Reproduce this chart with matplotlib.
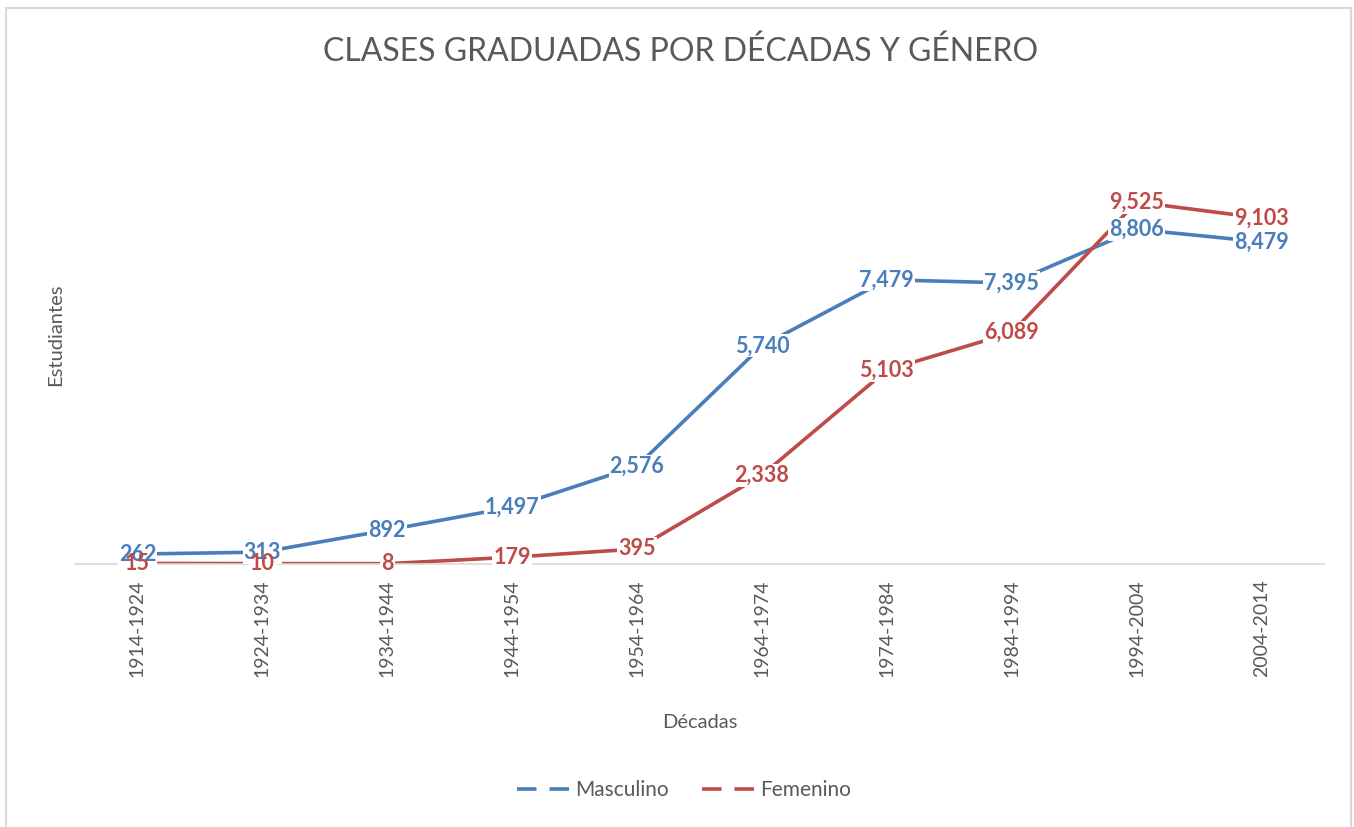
import matplotlib.pyplot as plt
from matplotlib.lines import Line2D
from matplotlib.patches import Rectangle

decadas = ["1914-1924", "1924-1934", "1934-1944", "1944-1954", "1954-1964",
           "1964-1974", "1974-1984", "1984-1994", "1994-2004", "2004-2014"]
masculino = [262, 313, 892, 1497, 2576, 5740, 7479, 7395, 8806, 8479]
femenino = [15, 10, 8, 179, 395, 2338, 5103, 6089, 9525, 9103]

azul = "#4A7EBB"
rojo = "#BE4B48"
gris = "#595959"

plt.rcParams['font.family'] = ['Lato', 'DejaVu Sans']

fig = plt.figure(figsize=(13.54, 8.27), dpi=100)
ax = fig.add_axes([75 / 1354, 1 - 564 / 827, 1249 / 1354, 456 / 827])

x = list(range(len(decadas)))
ax.plot(x, masculino, color=azul, lw=2.6, solid_capstyle='round', zorder=2)
ax.plot(x, femenino, color=rojo, lw=2.6, solid_capstyle='round', zorder=2)

caja = dict(facecolor='white', edgecolor='none', pad=0.8)
for i in x:
    # white box of the red label, under the blue labels
    ax.text(i, femenino[i], f"{femenino[i]:,}", color='none', fontsize=15.5,
            fontweight='bold', ha='center', va='center', zorder=3, bbox=caja)
    ax.text(i, masculino[i], f"{masculino[i]:,}", color=azul, fontsize=15.5,
            fontweight='bold', ha='center', va='center', zorder=4, bbox=caja)
    ax.text(i, femenino[i], f"{femenino[i]:,}", color=rojo, fontsize=15.5,
            fontweight='bold', ha='center', va='center', zorder=5)

ax.set_xlim(-0.5, len(decadas) - 0.5)
ax.set_ylim(0, 12000)
ax.set_xticks(x)
ax.set_xticklabels(decadas, rotation=90, fontsize=14, color=gris)
ax.tick_params(axis='x', length=0, pad=11)
ax.set_yticks([])
for s in ['top', 'right', 'left']:
    ax.spines[s].set_visible(False)
ax.spines['bottom'].set_color('#D9D9D9')
ax.spines['bottom'].set_linewidth(1.2)

fig.text(681 / 1354, 1 - 52 / 827, "CLASES GRADUADAS POR DÉCADAS Y GÉNERO",
         fontsize=23, color=gris, ha='center', va='center')
fig.text(700 / 1354, 1 - 722 / 827, "Décadas", fontsize=14.5, color=gris,
         ha='center', va='center')
fig.text(56 / 1354, 1 - 335 / 827, "Estudiantes", fontsize=14.5, color=gris,
         ha='center', va='center', rotation=90)

handles = [Line2D([], [], color=azul, lw=2.6, dashes=(5.4, 3.6)),
           Line2D([], [], color=rojo, lw=2.6, dashes=(5.4, 3.6))]
fig.legend(handles, ["Masculino", "Femenino"], loc='center',
           bbox_to_anchor=(684 / 1354, 1 - 790 / 827), ncol=2, frameon=False,
           fontsize=15, labelcolor=gris, handlelength=2.6, handletextpad=0.2,
           columnspacing=1.6)

fig.patches.append(Rectangle((6 / 1354, -0.1), 1345 / 1354, 1.1 - 8 / 827,
                             transform=fig.transFigure, fill=False,
                             edgecolor='#D9D9D9', lw=1.5))

fig.savefig("out.png", dpi=100)
